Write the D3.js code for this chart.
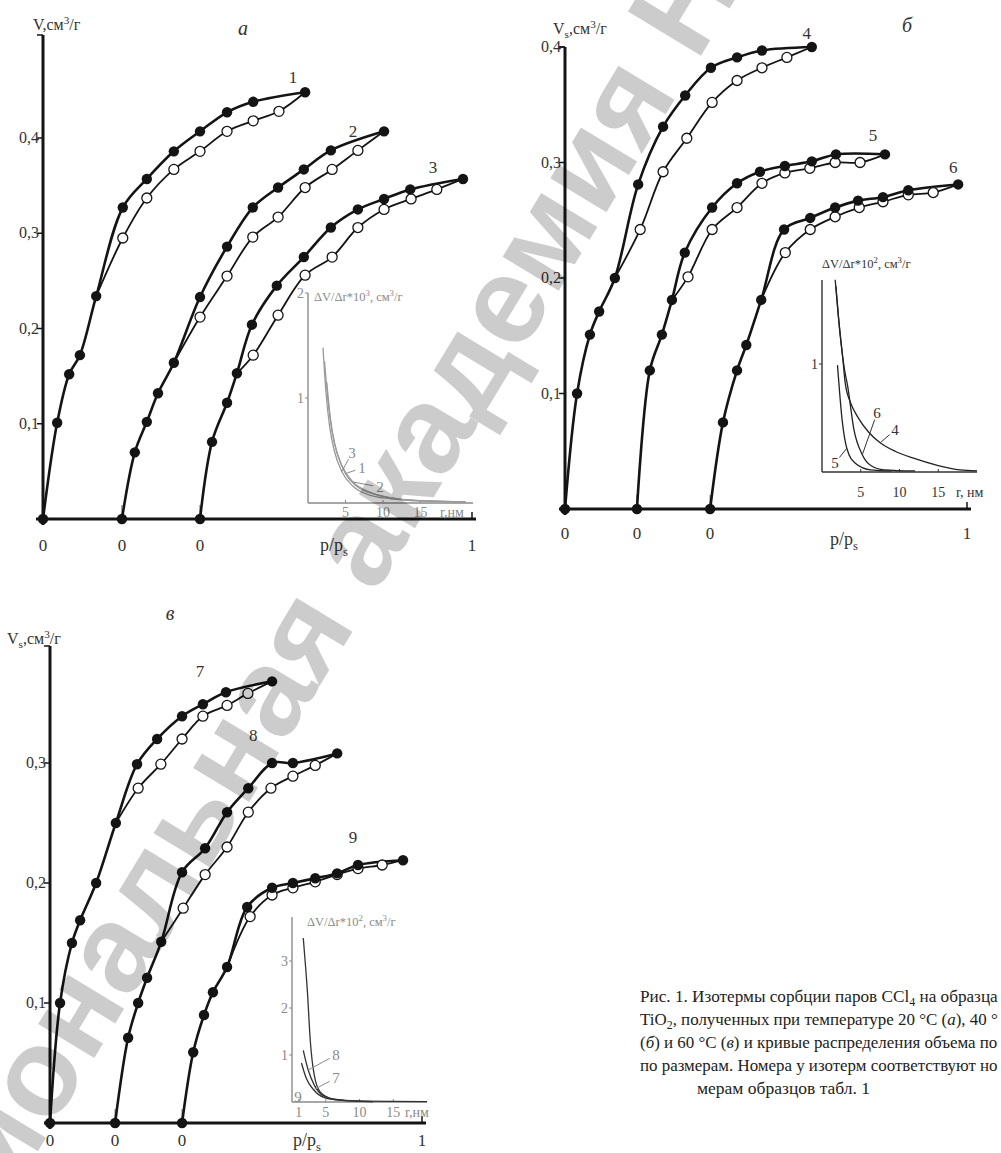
<!DOCTYPE html>
<html>
<head>
<meta charset="utf-8">
<script src="https://cdn.jsdelivr.net/npm/d3@7"></script>
<style>
  body { margin: 0; background: #fff; }
  svg { display: block; }
</style>
</head>
<body>
<div id="chart"></div>
<script>
// ---- data: isotherms (p/ps, Vs) ----
const yTicksA = [0.1, 0.2, 0.3, 0.4];
const yTicksB = [0.1, 0.2, 0.3, 0.4];
const yTicksC = [0.1, 0.2, 0.3];
const offsetsA = [0, 0.184, 0.366];
const offsetsB = [0, 0.179, 0.361];
const offsetsC = [0, 0.175, 0.355];

const adsA1 = [[0,0],[0.033,0.101],[0.061,0.152],[0.086,0.172],[0.124,0.234],[0.186,0.327],[0.242,0.357],[0.305,0.386],[0.366,0.407],[0.429,0.427],[0.490,0.438],[0.611,0.448]];
const desA1 = [[0.550,0.428],[0.490,0.418],[0.429,0.407],[0.366,0.386],[0.305,0.367],[0.242,0.337],[0.186,0.295]];
const adsA2 = [[0,0],[0.030,0.070],[0.058,0.102],[0.084,0.132],[0.121,0.164],[0.182,0.233],[0.245,0.286],[0.305,0.327],[0.364,0.348],[0.424,0.367],[0.487,0.387],[0.611,0.407]];
const desA2 = [[0.550,0.387],[0.490,0.367],[0.427,0.348],[0.364,0.317],[0.305,0.296],[0.245,0.255],[0.182,0.212]];
const adsA3 = [[0,0],[0.028,0.081],[0.063,0.122],[0.086,0.153],[0.121,0.204],[0.179,0.245],[0.242,0.275],[0.305,0.306],[0.368,0.325],[0.429,0.336],[0.490,0.346],[0.613,0.357]];
const desA3 = [[0.552,0.346],[0.492,0.336],[0.429,0.325],[0.368,0.306],[0.308,0.275],[0.245,0.256],[0.182,0.214],[0.124,0.172]];

const adsB4 = [[0,0],[0.030,0.100],[0.062,0.151],[0.085,0.171],[0.124,0.200],[0.182,0.281],[0.244,0.331],[0.299,0.358],[0.363,0.382],[0.428,0.391],[0.490,0.397],[0.614,0.400]];
const desB4 = [[0.552,0.391],[0.490,0.382],[0.428,0.371],[0.366,0.352],[0.303,0.321],[0.244,0.292],[0.187,0.242]];
const adsB5 = [[0,0],[0.032,0.120],[0.062,0.151],[0.087,0.181],[0.119,0.222],[0.187,0.261],[0.249,0.282],[0.306,0.292],[0.368,0.297],[0.435,0.301],[0.495,0.307],[0.617,0.307]];
const desB5 = [[0.555,0.300],[0.493,0.300],[0.430,0.295],[0.368,0.291],[0.311,0.282],[0.249,0.261],[0.187,0.242],[0.127,0.201]];
const adsB6 = [[0,0],[0.032,0.075],[0.067,0.120],[0.090,0.142],[0.127,0.181],[0.184,0.242],[0.249,0.252],[0.311,0.261],[0.368,0.267],[0.430,0.270],[0.493,0.276],[0.617,0.281]];
const desB6 = [[0.555,0.274],[0.493,0.272],[0.430,0.266],[0.371,0.261],[0.311,0.253],[0.249,0.242],[0.187,0.222]];

const adsC7 = [[0,0],[0.027,0.100],[0.059,0.150],[0.081,0.169],[0.124,0.200],[0.177,0.250],[0.234,0.299],[0.288,0.320],[0.355,0.339],[0.411,0.349],[0.473,0.359],[0.597,0.368]];
const desC7 = [[0.532,0.358],[0.476,0.348],[0.411,0.339],[0.355,0.320],[0.298,0.299],[0.237,0.279]];
const adsC8 = [[0,0],[0.035,0.071],[0.062,0.100],[0.086,0.121],[0.124,0.151],[0.180,0.209],[0.242,0.229],[0.301,0.259],[0.358,0.279],[0.422,0.300],[0.478,0.300],[0.597,0.308]];
const desC8 = [[0.538,0.298],[0.478,0.289],[0.419,0.279],[0.358,0.259],[0.301,0.230],[0.242,0.207],[0.183,0.179]];
const adsC9 = [[0,0],[0.030,0.059],[0.059,0.090],[0.083,0.109],[0.121,0.130],[0.175,0.180],[0.242,0.196],[0.298,0.200],[0.358,0.204],[0.417,0.208],[0.473,0.215],[0.594,0.219]];
const desC9 = [[0.538,0.215],[0.473,0.212],[0.417,0.207],[0.358,0.201],[0.298,0.196],[0.242,0.190],[0.183,0.172]];

// ---- data: pore size distributions (r, нм ; dV/dr) ----
const insetYTicksA = [1, 2];
const insetYTicksB = [1];
const insetYTicksC = [1, 2, 3];
const insetRTicksA = [5, 10, 15];
const insetRTicksB = [5, 10, 15];
const insetRTicksC = [1, 5, 10, 15];

const insA1 = [[2.2,1.35],[2.7,0.95],[3.2,0.68],[4,0.45],[5,0.28],[6.5,0.16],[9,0.08],[12,0.04],[16,0.02],[21,0.01]];
const insA2 = [[2.5,1.15],[3,0.8],[3.6,0.55],[4.5,0.36],[6,0.2],[8,0.11],[11,0.05],[15,0.02],[21,0.01]];
const insA3 = [[2.0,1.48],[2.4,1.05],[2.9,0.72],[3.5,0.5],[4.5,0.3],[6,0.16],[8,0.08],[11,0.04],[15,0.02],[21,0.01]];

const insB4 = [[1.7,1.78],[2.1,1.45],[2.7,1.04],[3.0,0.82],[3.7,0.64],[4.6,0.51],[6,0.37],[7.5,0.27],[9.5,0.19],[11.7,0.13],[15,0.06],[17.8,0.02],[20,0.01]];
const insB5 = [[2.0,0.99],[2.6,0.48],[3.2,0.22],[4.3,0.08],[6.2,0.02],[9,0.01]];
const insB6 = [[1.8,1.72],[2.3,1.3],[2.9,0.95],[3.3,0.8],[4.1,0.4],[5.2,0.16],[6.3,0.06],[8,0.02],[12,0.01]];

const insC7 = [[1.4,0.83],[2.1,0.51],[3.2,0.26],[4.7,0.1],[7,0.04],[12,0.01]];
const insC8 = [[1.67,1.1],[2.4,0.68],[3.3,0.36],[4.7,0.13],[7,0.04],[12,0.01]];
const insC9 = [[1.67,3.49],[2.0,2.9],[2.27,2.38],[2.7,1.32],[3.3,0.57],[4.2,0.21],[6.2,0.06],[10,0.02],[20,0.01]];

// caption as far as it is visible in the scan (the page cuts it at the right edge)
const captionLines = [
  [['Рис. 1. Изотермы сорбции паров CCl'], ['4', 'sub'], [' на образца']],
  [['TiO'], ['2', 'sub'], [', полученных при температуре 20 °C ('], ['а', 'i'], ['), 40 °']],
  [['('], ['б', 'i'], [') и 60 °C ('], ['в', 'i'], [') и кривые распределения объема по']],
  [['по размерам. Номера у изотерм соответствуют но']],
  [['мерам образцов табл. 1']]
];
const watermarkText = 'Национальная академия Наук Беларуси';

// ---- layout of the three panels ----
const panels = [
  {
    letter: 'а', letterPos: [243, 35],
    xLeft: 43, xRight: 472, yBase: 519, yTickTop: 138, yMaxTick: 0.4, axisTop: 35, xAxisStart: 36,
    yTicks: yTicksA, offsets: offsetsA, zeroY: 551, ppsPos: [320, 551],
    yLabel: { pos: [33, 30], segs: [['V'], [',см'], ['3', 'sup'], ['/г']] },
    curves: [
      { ads: adsA1, des: desA1, merge: 4, off: 0, label: '1', ldx: -12, ldy: -9 },
      { ads: adsA2, des: desA2, merge: 4, off: 1, label: '2', ldx: -31, ldy: 6 },
      { ads: adsA3, des: desA3, merge: 3, off: 2, label: '3', ldx: -30, ldy: -6 }
    ],
    inset: {
      left: 308, right: 473, rMax: 22, base: 503, unit: 105, top: 293, color: '#8a8a8a', lineColor: '#9a9a9a',
      yTicks: insetYTicksA, rTicks: insetRTicksA, labelY: 517, unitX: 440, unitText: 'r,нм',
      title: { pos: [314, 301], segs: [['ΔV/Δr*10'], ['3', 'sup'], [', см'], ['3', 'sup'], ['/г']] },
      curves: [insA1, insA2, insA3],
      labels: [
        { text: '3', at: [5.87, 0.476], curve: 2, idx: 4 },
        { text: '1', at: [7.2, 0.333], curve: 0, idx: 4 },
        { text: '2', at: [9.6, 0.152], curve: 1, idx: 4 }
      ]
    }
  },
  {
    letter: 'б', letterPos: [907, 32],
    xLeft: 565, xRight: 967, yBase: 509, yTickTop: 47, yMaxTick: 0.4, axisTop: 47, xAxisStart: 559,
    yTicks: yTicksB, offsets: offsetsB, zeroY: 539, ppsPos: [830, 545],
    yLabel: { pos: [553, 34], segs: [['V'], ['s', 'sub'], [',см'], ['3', 'sup'], ['/г']] },
    curves: [
      { ads: adsB4, des: desB4, merge: 4, off: 0, label: '4', ldx: -5, ldy: -8 },
      { ads: adsB5, des: desB5, merge: 3, off: 1, label: '5', ldx: -12, ldy: -13 },
      { ads: adsB6, des: desB6, merge: 4, off: 2, label: '6', ldx: -5, ldy: -11 }
    ],
    inset: {
      left: 822, right: 977, rMax: 20, base: 472, unit: 108, top: 280, color: '#333', lineColor: '#222',
      yTicks: insetYTicksB, rTicks: insetRTicksB, labelY: 497, unitX: 956, unitText: 'r, нм',
      title: { pos: [822, 268], segs: [['ΔV/Δr*10'], ['2', 'sup'], [', см'], ['3', 'sup'], ['/г']] },
      curves: [insB4, insB5, insB6],
      labels: [
        { text: '5', at: [1.68, 0.083], curve: 1, idx: 2 },
        { text: '6', at: [7.1, 0.546], curve: 2, idx: 5 },
        { text: '4', at: [9.42, 0.389], curve: 0, idx: 7 }
      ]
    }
  },
  {
    letter: 'в', letterPos: [170, 620],
    xLeft: 50, xRight: 422, yBase: 1123, yTickTop: 763, yMaxTick: 0.3, axisTop: 646, xAxisStart: 44,
    yTicks: yTicksC, offsets: offsetsC, zeroY: 1146, ppsPos: [293, 1146],
    yLabel: { pos: [7, 644], segs: [['V'], ['s', 'sub'], [',см'], ['3', 'sup'], ['/г']] },
    curves: [
      { ads: adsC7, des: desC7, merge: 5, off: 0, label: '7', ldx: -72, ldy: -4 },
      { ads: adsC8, des: desC8, merge: 4, off: 1, label: '8', ldx: -84, ldy: -12 },
      { ads: adsC9, des: desC9, merge: 4, off: 2, label: '9', ldx: -50, ldy: -17 }
    ],
    inset: {
      left: 292, right: 427, rMax: 20, base: 1102, unit: 47, top: 917, color: '#8a8a8a', lineColor: '#333',
      yTicks: insetYTicksC, rTicks: insetRTicksC, labelY: 1117, unitX: 405, unitText: 'r,нм',
      title: { pos: [307, 926], segs: [['ΔV/Δr*10'], ['2', 'sup'], [', см'], ['3', 'sup'], ['/г']] },
      curves: [insC7, insC8, insC9],
      labels: [
        { text: '8', at: [6.5, 1.0], curve: 1, idx: 1 },
        { text: '7', at: [6.5, 0.51], curve: 0, idx: 2 },
        { text: '9', at: [0.9, 0.1], curve: -1, idx: 0 }
      ]
    }
  }
];

class IsothermChart {
  constructor() {
    const attrs = {
      container: '#chart',
      svgWidth: 1001,
      svgHeight: 1153,
      defaultFont: '"Liberation Serif", "Times New Roman", serif',
      ink: '#141414',
      panels: null,
      caption: null,
      watermark: null
    };
    this.getState = () => attrs;
    this.setState = (d) => Object.assign(attrs, d);
    Object.keys(attrs).forEach((key) => {
      this[key] = function (_) {
        if (!arguments.length) return attrs[key];
        attrs[key] = _;
        return this;
      };
    });
  }

  render() {
    this.drawSvg();
    this.getState().panels.forEach((p) => this.drawPanel(p));
    this.drawCaption();
    this.drawWatermark();
    return this;
  }

  drawSvg() {
    const { container, svgWidth, svgHeight, defaultFont } = this.getState();
    const svg = d3.select(container).append('svg')
      .attr('width', svgWidth)
      .attr('height', svgHeight)
      .attr('font-family', defaultFont);
    svg.append('rect').attr('width', svgWidth).attr('height', svgHeight).attr('fill', '#fff');
    this.setState({ svg });
  }

  // text with sub/superscripts and italic pieces
  rich(sel, segs, size) {
    let shift = 0;
    segs.forEach(([t, kind]) => {
      const ts = sel.append('tspan').text(t);
      let target = 0;
      if (kind === 'sub') target = size * 0.25;
      if (kind === 'sup') target = -size * 0.4;
      if (target !== shift) { ts.attr('dy', target - shift); shift = target; }
      if (kind === 'sub' || kind === 'sup') ts.attr('font-size', size * 0.7);
      if (kind === 'i') ts.attr('font-style', 'italic');
    });
  }

  drawPanel(panel) {
    const { svg, ink } = this.getState();
    const g = svg.append('g').attr('class', 'panel');
    const x = d3.scaleLinear().domain([0, 1]).range([panel.xLeft, panel.xRight]);
    const y = d3.scaleLinear().domain([0, panel.yMaxTick]).range([panel.yBase, panel.yTickTop]);
    const fmt = (d) => d3.format('.1f')(d).replace('.', ',');

    // axes
    g.append('line')
      .attr('x1', panel.xLeft).attr('x2', panel.xLeft)
      .attr('y1', panel.yBase + 6).attr('y2', panel.axisTop)
      .attr('stroke', ink).attr('stroke-width', 3);
    g.append('line')
      .attr('x1', panel.xAxisStart).attr('x2', panel.xRight + 4)
      .attr('y1', panel.yBase).attr('y2', panel.yBase)
      .attr('stroke', ink).attr('stroke-width', 3);
    g.append('line')
      .attr('x1', panel.xLeft - 6).attr('x2', panel.xLeft)
      .attr('y1', panel.axisTop).attr('y2', panel.axisTop)
      .attr('stroke', ink).attr('stroke-width', 1.5);

    g.selectAll('line.ytick').data(panel.yTicks).join('line')
      .attr('class', 'ytick')
      .attr('x1', panel.xLeft - 6).attr('x2', panel.xLeft)
      .attr('y1', (d) => y(d)).attr('y2', (d) => y(d))
      .attr('stroke', ink).attr('stroke-width', 1.5);
    g.selectAll('text.ytick').data(panel.yTicks).join('text')
      .attr('class', 'ytick')
      .attr('x', panel.xLeft - 4).attr('y', (d) => y(d) + 5)
      .attr('text-anchor', 'end').attr('font-size', 16).attr('fill', '#333')
      .text(fmt);

    // origin marks for shifted isotherms
    g.selectAll('line.orig').data(panel.offsets.slice(1)).join('line')
      .attr('class', 'orig')
      .attr('x1', (d) => x(d)).attr('x2', (d) => x(d))
      .attr('y1', panel.yBase - 14).attr('y2', panel.yBase)
      .attr('stroke', '#666').attr('stroke-width', 1);
    g.append('line')
      .attr('x1', x(1)).attr('x2', x(1))
      .attr('y1', panel.yBase - 7).attr('y2', panel.yBase)
      .attr('stroke', ink).attr('stroke-width', 1.5);

    g.selectAll('text.zero').data(panel.offsets).join('text')
      .attr('class', 'zero')
      .attr('x', (d) => x(d)).attr('y', panel.zeroY)
      .attr('text-anchor', 'middle').attr('font-size', 17).attr('fill', '#333')
      .text('0');
    g.append('text')
      .attr('x', x(1)).attr('y', panel.zeroY)
      .attr('text-anchor', 'middle').attr('font-size', 17).attr('fill', '#333')
      .text('1');
    this.rich(g.append('text').attr('x', panel.ppsPos[0]).attr('y', panel.ppsPos[1])
      .attr('font-size', 18).attr('fill', '#333'), [['p/p'], ['s', 'sub']], 18);

    this.rich(g.append('text').attr('x', panel.yLabel.pos[0]).attr('y', panel.yLabel.pos[1])
      .attr('font-size', 16).attr('fill', '#333'), panel.yLabel.segs, 16);
    g.append('text')
      .attr('x', panel.letterPos[0]).attr('y', panel.letterPos[1])
      .attr('text-anchor', 'middle').attr('font-size', 20).attr('font-style', 'italic').attr('fill', '#333')
      .text(panel.letter);

    // isotherms
    panel.curves.forEach((c) => {
      const off = panel.offsets[c.off];
      const line = d3.line()
        .x((d) => x(d[0] + off)).y((d) => y(d[1]))
        .curve(d3.curveCatmullRom.alpha(0.5));
      const last = c.ads[c.ads.length - 1];
      const desPath = [last, ...c.des, c.ads[c.merge]];
      const cg = g.append('g').attr('class', 'isotherm');
      cg.append('path').datum(desPath).attr('d', line)
        .attr('fill', 'none').attr('stroke', ink).attr('stroke-width', 1.8);
      cg.append('path').datum(c.ads).attr('d', line)
        .attr('fill', 'none').attr('stroke', ink).attr('stroke-width', 2.6);
      cg.selectAll('circle.open').data(c.des).join('circle')
        .attr('class', 'open')
        .attr('cx', (d) => x(d[0] + off)).attr('cy', (d) => y(d[1])).attr('r', 5)
        .attr('fill', '#fff').attr('stroke', ink).attr('stroke-width', 1.3);
      cg.selectAll('circle.full').data(c.ads).join('circle')
        .attr('class', 'full')
        .attr('cx', (d) => x(d[0] + off)).attr('cy', (d) => y(d[1])).attr('r', 5.2)
        .attr('fill', ink);
      cg.append('text')
        .attr('x', x(last[0] + off) + c.ldx).attr('y', y(last[1]) + c.ldy)
        .attr('text-anchor', 'middle').attr('font-size', 17).attr('fill', '#333')
        .text(c.label);
    });

    this.drawInset(g, panel.inset);
  }

  drawInset(g, inset) {
    const rx = d3.scaleLinear().domain([0, inset.rMax]).range([inset.left, inset.right]);
    const vy = d3.scaleLinear().domain([0, 1]).range([inset.base, inset.base - inset.unit]);
    const ig = g.append('g').attr('class', 'inset');

    ig.append('line')
      .attr('x1', inset.left).attr('x2', inset.left)
      .attr('y1', inset.base).attr('y2', inset.top)
      .attr('stroke', inset.color).attr('stroke-width', 1.4);
    ig.append('line')
      .attr('x1', inset.left).attr('x2', inset.right)
      .attr('y1', inset.base).attr('y2', inset.base)
      .attr('stroke', inset.color).attr('stroke-width', 1.4);

    ig.selectAll('line.iy').data(inset.yTicks).join('line')
      .attr('class', 'iy')
      .attr('x1', inset.left - 3).attr('x2', inset.left)
      .attr('y1', (d) => vy(d)).attr('y2', (d) => vy(d))
      .attr('stroke', inset.color);
    ig.selectAll('text.iy').data(inset.yTicks).join('text')
      .attr('class', 'iy')
      .attr('x', inset.left - 4).attr('y', (d) => vy(d) + 5)
      .attr('text-anchor', 'end').attr('font-size', 14).attr('fill', inset.color)
      .text((d) => d);

    ig.selectAll('line.ix').data(inset.rTicks).join('line')
      .attr('class', 'ix')
      .attr('x1', (d) => rx(d)).attr('x2', (d) => rx(d))
      .attr('y1', inset.base).attr('y2', inset.base - 3)
      .attr('stroke', inset.color);
    ig.selectAll('text.ix').data(inset.rTicks).join('text')
      .attr('class', 'ix')
      .attr('x', (d) => rx(d)).attr('y', inset.labelY)
      .attr('text-anchor', 'middle').attr('font-size', 14).attr('fill', inset.color)
      .text((d) => d);
    ig.append('text')
      .attr('x', inset.unitX).attr('y', inset.labelY)
      .attr('font-size', 14).attr('fill', inset.color)
      .text(inset.unitText);

    this.rich(ig.append('text').attr('x', inset.title.pos[0]).attr('y', inset.title.pos[1])
      .attr('font-size', 12.5).attr('fill', inset.color), inset.title.segs, 12.5);

    const line = d3.line()
      .x((d) => rx(d[0])).y((d) => vy(d[1]))
      .curve(d3.curveMonotoneX);
    ig.selectAll('path.dist').data(inset.curves).join('path')
      .attr('class', 'dist')
      .attr('d', line)
      .attr('fill', 'none').attr('stroke', inset.lineColor).attr('stroke-width', 1.3);

    inset.labels.forEach((l) => {
      const lx = rx(l.at[0]);
      const ly = vy(l.at[1]);
      if (l.curve >= 0) {
        const p = inset.curves[l.curve][l.idx];
        const tx = rx(p[0]);
        const ty = vy(p[1]);
        const len = Math.hypot(tx - lx, ty - ly);
        ig.append('line')
          .attr('x1', lx + (tx - lx) * 7 / len).attr('y1', ly + (ty - ly) * 7 / len)
          .attr('x2', tx).attr('y2', ty)
          .attr('stroke', inset.color).attr('stroke-width', 1);
      }
      ig.append('text')
        .attr('x', lx).attr('y', ly + 5)
        .attr('text-anchor', 'middle').attr('font-size', 15).attr('fill', inset.color)
        .text(l.text);
    });
  }

  drawCaption() {
    const { svg, caption, svgWidth } = this.getState();
    const size = 17.5;
    const cg = svg.append('g').attr('class', 'caption');
    caption.forEach((segs, i) => {
      const x0 = i === caption.length - 1 ? 697 : 640;
      const t = cg.append('text')
        .attr('x', x0)
        .attr('y', 1002 + i * 23)
        .attr('font-size', size).attr('fill', '#222');
      this.rich(t, segs, size);
      // keep the line inside the page: shrink the font a little where needed
      const room = svgWidth - 3 - x0;
      const w = t.node().getComputedTextLength();
      if (w > room) {
        const s = size * room / w;
        t.attr('font-size', s);
        t.selectAll('tspan').remove();
        this.rich(t, segs, s);
      }
    });
  }

  drawWatermark() {
    const { svg, watermark } = this.getState();
    const base = 100;
    const t = svg.append('text')
      .attr('font-family', '"Liberation Sans", Arial, sans-serif')
      .attr('font-weight', 'bold')
      .attr('font-size', base)
      .attr('fill', '#000').attr('fill-opacity', 0.2)
      .text(watermark);
    const node = t.node();
    // anchor the two "я" letters on the places where they sit in the scan
    const i1 = 11, i2 = 20;
    const c1 = node.getSubStringLength(0, i1) + node.getSubStringLength(i1, 1) / 2;
    const c2 = node.getSubStringLength(0, i2) + node.getSubStringLength(i2, 1) / 2;
    const p1 = [300, 632], p2 = [622, 100];
    const dist = Math.hypot(p2[0] - p1[0], p2[1] - p1[1]);
    const k = dist / (c2 - c1);
    const ang = Math.atan2(p2[1] - p1[1], p2[0] - p1[0]) * 180 / Math.PI;
    t.attr('font-size', base * k)
      .attr('x', -c1 * k).attr('y', 0.36 * base * k)
      .attr('transform', `translate(${p1[0]},${p1[1]}) rotate(${ang})`);
  }
}

new IsothermChart()
  .panels(panels)
  .caption(captionLines)
  .watermark(watermarkText)
  .render();
</script>
</body>
</html>
